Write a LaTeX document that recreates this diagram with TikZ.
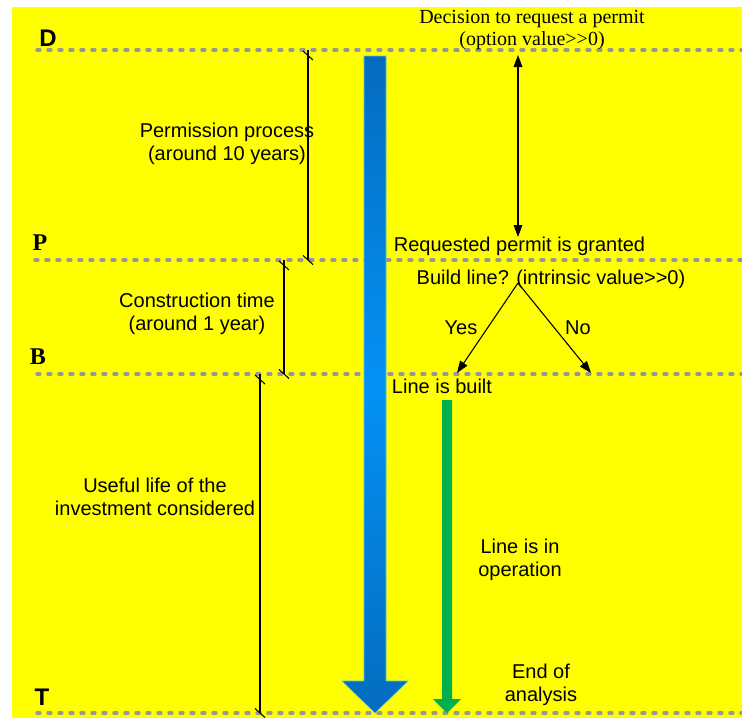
\documentclass[tikz,border=0pt]{standalone}
\usepackage{fontspec}
\setmainfont{Liberation Sans}
\newfontfamily\timesf{Liberation Serif}
\usetikzlibrary{arrows.meta}
\definecolor{bgyellow}{RGB}{255,255,0}
\definecolor{dashgray}{RGB}{150,150,150}
\definecolor{blueA}{RGB}{4,108,190}
\definecolor{blueB}{RGB}{4,146,246}
\definecolor{blueedge}{RGB}{90,190,235}
\definecolor{greenA}{RGB}{0,176,80}
\tikzset{
  levelline/.style={draw=dashgray, line width=2.6pt, line cap=round, dash pattern=on 2.1pt off 6.15pt},
  dimline/.style={draw=black, line width=0.8pt},
  txt/.style={inner sep=0pt, font=\fontsize{15}{17.5}\selectfont, align=center},
  serif/.style={inner sep=0pt, font=\timesf\fontsize{15}{16.5}\selectfont, align=center},
  lvlsans/.style={inner sep=0pt, font=\bfseries\fontsize{18}{20}\selectfont},
  lvlserif/.style={inner sep=0pt, font=\timesf\bfseries\fontsize{18}{20}\selectfont},
  arr/.style={draw=black, line width=0.8pt, -{Triangle[length=9pt,width=6.5pt]}},
}
\begin{document}
\begin{tikzpicture}[x=0.75pt,y=-0.75pt]
\useasboundingbox (0,0) rectangle (742,718);
\fill[bgyellow] (12,7) rectangle (742,718);

% level lines
\coordinate (dL) at (37,50);  \coordinate (dR) at (742,50);
\coordinate (pL) at (35,260); \coordinate (pR) at (742,260);
\coordinate (bL) at (37,374); \coordinate (bR) at (742,374);
\coordinate (tL) at (37,713); \coordinate (tR) at (742,713);
\draw[levelline] (dL) -- (dR);
\draw[levelline] (pL) -- (pR);
\draw[levelline] (bL) -- (bR);
\draw[levelline] (tL) -- (tR);

% level labels
\node[lvlsans] (labD) at (48,38) {D};
\node[lvlserif] (labP) at (40,243) {P};
\node[lvlserif] (labB) at (38,357) {B};
\node[lvlsans] (labT) at (42,697) {T};

% big blue arrow
\shade[top color=blueA, bottom color=blueA, middle color=blueB, draw=blueedge, line width=0.4pt]
  (364,56) -- (386,56) -- (386,681) -- (408,681) -- (375,713) -- (342,681) -- (364,681) -- cycle;

% green arrow
\fill[greenA] (442,400) -- (452,400) -- (452,699) -- (461,699) -- (447,713) -- (433,699) -- (442,699) -- cycle;

% dimension lines
\coordinate (m1t) at (308,50);  \coordinate (m1b) at (308,260);
\coordinate (m2t) at (284,260); \coordinate (m2b) at (284,374);
\coordinate (m3t) at (260,374); \coordinate (m3b) at (260,713);
\draw[dimline] (m1t) -- (m1b);
\draw[dimline] (m2t) -- (m2b);
\draw[dimline] (m3t) -- (m3b);
\foreach \c in {m1t,m2t,m3t}{
  \draw[dimline] ([shift={(-5,1)}]\c) -- ++(10,9);
}
\foreach \c in {m1b,m2b,m3b}{
  \draw[dimline] ([shift={(-5,-4.5)}]\c) -- ++(10,9);
}

% texts
\node[serif] (dec) at (532,30) {Decision to request a permit\\(option value>{}>0)};
\node[txt] (perm) at (227,144) {Permission process\\(around 10 years)};
\node[txt] (granted) at (519.5,246) {Requested permit is granted};
\node[txt] (build) at (551,279) {Build line? (intrinsic value>{}>0)};
\node[txt] (yes) at (461,328) {Yes};
\node[txt] (no) at (578,328) {No};
\node[txt] (constr) at (197,313.5) {Construction time\\(around 1 year)};
\node[txt] (built) at (442,386) {Line is built};
\node[txt] (useful) at (155,497) {Useful life of the\\investment considered};
\node[txt] (oper) at (520,560) {Line is in\\operation};
\node[txt] (endan) at (541,684.5) {End of\\analysis};

% decision double arrow
\coordinate (decA) at (518,55);
\coordinate (decB) at (518,237);
\draw[arr, {Triangle[length=9pt,width=6.5pt]}-{Triangle[length=9pt,width=6.5pt]}] (decA) -- (decB);

% build decision tree
\coordinate (fork) at (518,283);
\coordinate (yesend) at (457,373);
\coordinate (noend) at (591,373);
\draw[arr] (fork) -- (yesend);
\draw[arr] (fork) -- (noend);
\end{tikzpicture}
\end{document}
